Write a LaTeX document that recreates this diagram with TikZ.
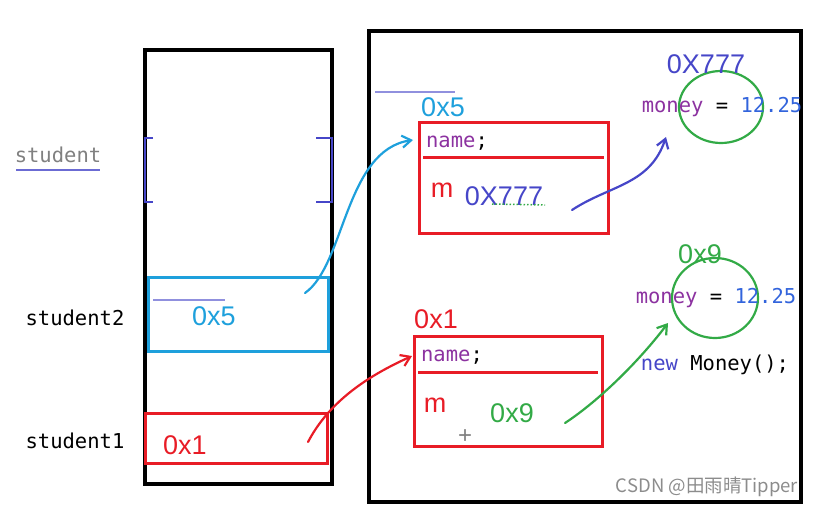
\documentclass[tikz,border=0pt]{standalone}
\usepackage{fontspec}
\setmainfont{Liberation Sans}
\setmonofont{DejaVu Sans Mono}
\newfontfamily\cjkfont{Noto Sans CJK SC}
\usetikzlibrary{arrows.meta,positioning,shapes.geometric}
\definecolor{penred}{RGB}{232,28,38}
\definecolor{pencyan}{RGB}{30,160,220}
\definecolor{pengreen}{RGB}{50,170,70}
\definecolor{penblue}{RGB}{70,70,200}
\definecolor{codepurple}{RGB}{140,50,160}
\definecolor{codeblue}{RGB}{50,100,220}
\tikzset{
  frame/.style={draw, line width=3.4pt, inner sep=0pt},
  cell/.style={draw, line width=3pt, inner sep=0pt},
  code/.style={inner sep=0pt, font=\fontsize{20.5}{24}\ttfamily},
  hand/.style={inner sep=0pt, font=\fontsize{27}{30}\selectfont},
  pen/.style={line width=2.2pt, line cap=round, line join=round, -{Straight Barb[length=9pt, width=12pt]}}
}

\begin{document}
\begin{tikzpicture}[x=1pt, y=-1pt]
\useasboundingbox (0,0) rectangle (818,506);
\node[frame, minimum width=187pt, minimum height=434pt] (stack) at (238.5,267) {};
\node[frame, minimum width=432pt, minimum height=471pt] (heap) at (585,266.5) {};
\draw[penblue, line width=2.8pt] (153,138) -- (145,138) -- (145,202) -- (153,202);
\draw[penblue, line width=2.8pt] (316,138) -- (332,138) -- (332,202) -- (316,202);
\node[code, text=black!50] (stu) at (58,155) {student};
\draw[penblue!80, line width=1.6pt] (16,170) -- (100,170);
\node[code] (stu2) at (75,318) {student2};
\node[code] (stu1) at (75,441) {student1};
\node[cell, draw=pencyan, minimum width=180pt, minimum height=74pt] (stu2cell) at (238,314) {};
\node[cell, draw=penred, minimum width=182pt, minimum height=50pt] (stu1cell) at (236,438) {};
\draw[penblue!60, line width=1.5pt] (153,300) -- (225,300);
\node[hand, text=pencyan] (ref5) at (214,316) {0x5};
\node[hand, text=penred] (ref1) at (185,445) {0x1};

\node[cell, draw=penred, minimum width=189pt, minimum height=111pt] (obj5) at (513.5,177.5) {};
\draw[penred, line width=3pt] (423,157) -- (604,157);
\draw[penblue!60, line width=1.5pt] (375,92) -- (455,92);
\node[hand, text=pencyan] (addr5) at (443,107) {0x5};
\node[code] (name5) at (457,143) {\textcolor{codepurple}{name};};
\node[hand, text=penred] (m5) at (442,190) {m};
\node[hand, text=penblue] (val5) at (504,196) {0X777};
\draw[pengreen, line width=1.5pt, dotted] (492,204) -- (545,205);

\node[cell, draw=penred, minimum width=188pt, minimum height=110pt] (obj1) at (508,391) {};
\draw[penred, line width=3pt] (418,372) -- (598,372);
\node[hand, text=penred] (addr1) at (436,319) {0x1};
\node[code] (name1) at (452,357) {\textcolor{codepurple}{name};};
\node[hand, text=penred] (m1) at (435,405) {m};
\node[hand, text=pengreen] (val1) at (512,413) {0x9};
\node[inner sep=0pt, text=black!50, font=\fontsize{24}{24}\selectfont] (cursor) at (465,437) {+};

\node[draw=pengreen, line width=2.2pt, ellipse, minimum width=84pt, minimum height=72pt] (ring777) at (721,107) {};
\node[hand, text=penblue] (addr777) at (706,64) {0X777};
\node[code] (money777) at (722,107) {\textcolor{codepurple}{money} = \textcolor{codeblue}{12.25}};

\node[draw=pengreen, line width=2.2pt, ellipse, minimum width=86pt, minimum height=80pt] (ring9) at (715,298) {};
\node[hand, text=pengreen] (addr9) at (700,254) {0x9};
\node[code] (money9) at (716,298) {\textcolor{codepurple}{money} = \textcolor{codeblue}{12.25}};
\node[code] (newmoney) at (715,365) {\textcolor{penblue}{new} Money();};

\node[inner sep=0pt, text=black!45, font=\cjkfont\fontsize{18.5}{20}\selectfont] (mark) at (707,487) {CSDN @田雨晴Tipper};

\coordinate (c5s) at (305,293);
\coordinate (c5e) at (413,140);
\coordinate (c1s) at (308,442);
\coordinate (c1e) at (412,356);
\coordinate (c7s) at (572,210);
\coordinate (c7e) at (666,137);
\coordinate (c9s) at (565,423);
\coordinate (c9e) at (668,323);
\draw[pen, pencyan] (c5s) .. controls (345,265) and (345,150) .. (c5e);
\draw[pen, penred] (c1s) .. controls (330,400) and (370,375) .. (c1e);
\draw[pen, penblue] (c7s) .. controls (610,185) and (650,185) .. (c7e);
\draw[pen, pengreen] (c9s) .. controls (600,400) and (640,360) .. (c9e);
\end{tikzpicture}
\end{document}
